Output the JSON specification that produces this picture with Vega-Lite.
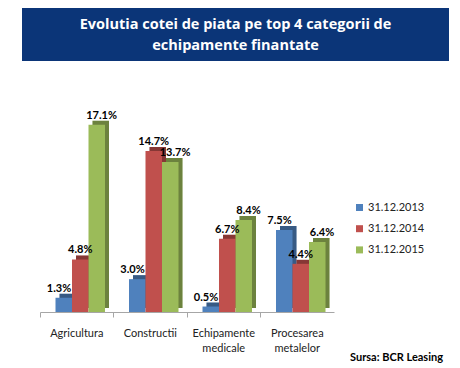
{
  "$schema": "https://vega.github.io/schema/vega-lite/v6.json",
  "padding": {"left": 22, "top": 8, "right": 0, "bottom": 0},
  "background": "white",
  "config": {"font": "Lato", "view": {"stroke": null}},
  "title": {"text": "Sursa: BCR Leasing", "orient": "bottom", "anchor": "end", "fontSize": 11, "fontWeight": "bold", "color": "#000", "dx": -6, "dy": -1, "offset": 0},
  "spacing": 32,
  "vconcat": [
    {
      "width": 427,
      "height": 53,
      "view": {"fill": "#0b3578", "stroke": null},
      "data": {"values": [
        {"line": 1, "text": "Evolutia cotei de piata pe top 4 categorii de"},
        {"line": 2, "text": "echipamente finantate"}
      ]},
      "mark": {"type": "text", "color": "white", "fontWeight": "bold", "fontSize": 14.5, "font": "Open Sans", "baseline": "middle"},
      "encoding": {
        "y": {"field": "line", "type": "ordinal", "axis": null, "scale": {"type": "point", "range": [17, 38], "padding": 0}},
        "text": {"field": "text"}
      }
    },
    {
      "width": 312,
      "height": 219,
      "view": {"stroke": null},
      "data": {"values": [
        {"category": "Agricultura", "series": "31.12.2013", "value": 0.013},
        {"category": "Agricultura", "series": "31.12.2014", "value": 0.048},
        {"category": "Agricultura", "series": "31.12.2015", "value": 0.171},
        {"category": "Constructii", "series": "31.12.2013", "value": 0.030},
        {"category": "Constructii", "series": "31.12.2014", "value": 0.147},
        {"category": "Constructii", "series": "31.12.2015", "value": 0.137},
        {"category": "Echipamente medicale", "series": "31.12.2013", "value": 0.005},
        {"category": "Echipamente medicale", "series": "31.12.2014", "value": 0.067},
        {"category": "Echipamente medicale", "series": "31.12.2015", "value": 0.084},
        {"category": "Procesarea metalelor", "series": "31.12.2013", "value": 0.075},
        {"category": "Procesarea metalelor", "series": "31.12.2014", "value": 0.044},
        {"category": "Procesarea metalelor", "series": "31.12.2015", "value": 0.064}
      ]},
      "resolve": {"scale": {"xOffset": "independent"}},
      "encoding": {
        "x": {
          "field": "category", "type": "nominal", "sort": null,
          "scale": {"paddingInner": 0, "paddingOuter": 0, "range": [18, 312]},
          "axis": {
            "title": null, "domainColor": "#a6a6a6", "tickColor": "#a6a6a6", "tickSize": 5,
            "bandPosition": 0, "labelAngle": 0, "labelFontSize": 11,
            "labelColor": "#222222", "labelPadding": 10, "labelLineHeight": 15,
            "labelOverlap": false, "labelExpr": "split(datum.label, ' ')"
          }
        },
        "xOffset": {"field": "series", "type": "nominal", "scale": {"paddingInner": 0, "paddingOuter": 0.727, "range": [3.5, 77]}},
        "y": {
          "field": "value", "type": "quantitative",
          "scale": {"domain": [0, 0.2], "nice": false},
          "axis": null
        }
      },
      "layer": [
        {
          "mark": {"type": "bar", "yOffset": -4, "y2Offset": -4},
          "encoding": {
            "xOffset": {"field": "series", "type": "nominal", "scale": {"paddingInner": 0, "paddingOuter": 0.727, "range": [7.5, 81]}},
            "color": {
              "field": "series", "type": "nominal",
              "scale": {"domain": ["31.12.2013", "31.12.2014", "31.12.2015"], "range": ["#4f81bd", "#c0504d", "#9bbb59"]},
              "legend": {"title": null, "orient": "none", "legendX": 332, "legendY": 194, "symbolType": "square", "symbolSize": 49, "symbolStrokeWidth": 0, "labelFontSize": 11, "labelColor": "#222222", "rowPadding": 9.2, "labelOffset": 3}
            }
          }
        },
        {
          "mark": {"type": "bar", "color": "black", "opacity": 0.3, "yOffset": -4, "y2Offset": -4},
          "encoding": {
            "xOffset": {"field": "series", "type": "nominal", "scale": {"paddingInner": 0, "paddingOuter": 0.727, "range": [7.5, 81]}}
          }
        },
        {
          "mark": {"type": "bar"},
          "encoding": {
            "color": {
              "field": "series", "type": "nominal",
              "scale": {"domain": ["31.12.2013", "31.12.2014", "31.12.2015"], "range": ["#4f81bd", "#c0504d", "#9bbb59"]},
              "legend": {"title": null, "orient": "none", "legendX": 332, "legendY": 194, "symbolType": "square", "symbolSize": 49, "symbolStrokeWidth": 0, "labelFontSize": 11, "labelColor": "#222222", "rowPadding": 9.2, "labelOffset": 3}
            }
          }
        },
        {
          "mark": {"type": "text", "fontWeight": "bold", "fontSize": 11, "dy": -6, "baseline": "alphabetic", "color": "black"},
          "encoding": {"text": {"field": "value", "type": "quantitative", "format": ".1%"}}
        }
      ]
    }
  ]
}
